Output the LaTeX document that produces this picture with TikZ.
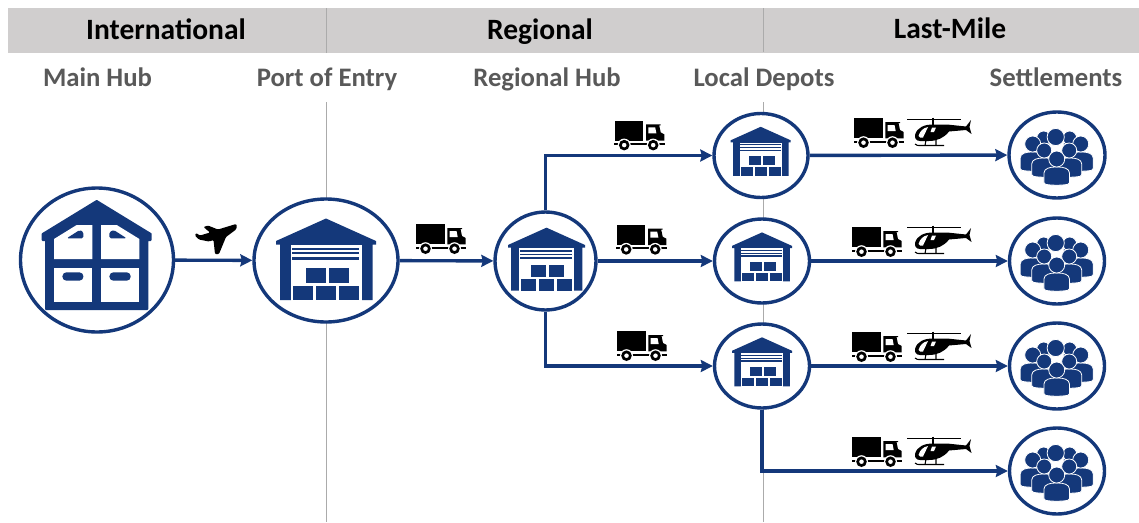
\documentclass[tikz,border=0pt]{standalone}
\usepackage{fontspec}
\setmainfont{Carlito}
\usetikzlibrary{shapes.geometric,arrows.meta}
\definecolor{navy}{HTML}{14387A}
\definecolor{bandgray}{HTML}{D0CECE}
\definecolor{rulegray}{HTML}{ABABAB}
\definecolor{labelgray}{HTML}{595959}
\newcommand{\crowdperson}[6]{% head x,y,r, half width, body top, body bottom
  \fill[navy,draw=white,line width=.8pt,rounded corners=1.5pt]
    ({#1-#4},#6) -- ({#1-#4},{#5+#4*0.6}) .. controls ({#1-#4},{#5+#4*0.1}) and ({#1-#4*0.5},#5) .. (#1,#5)
    .. controls ({#1+#4*0.5},#5) and ({#1+#4},{#5+#4*0.1}) .. ({#1+#4},{#5+#4*0.6}) -- ({#1+#4},#6)
    .. controls ({#1+#4*0.4},{#6+1.5}) and ({#1-#4*0.4},{#6+1.5}) .. cycle;
  \fill[navy,draw=white,line width=.8pt] (#1,#2) circle (#3);
}
\tikzset{
  x=1pt,y=-1pt,
  band/.style={fill=bandgray,draw=none,minimum width=1131pt,minimum height=45pt,inner sep=0pt},
  head/.style={font=\fontsize{29.5}{32}\selectfont\bfseries,text=black,inner sep=0pt,anchor=base},
  sublabel/.style={font=\fontsize{26.7}{30}\selectfont\bfseries,text=labelgray,inner sep=0pt,anchor=base},
  hubnode/.style={shape=ellipse,draw=navy,line width=3.4pt,fill=white,inner sep=0pt},
  link/.style={draw=navy,line width=3.4pt,-{Stealth[length=12pt,width=12pt,inset=1.5pt]},line join=miter},
  divider/.style={draw=rulegray,line width=1pt},
  pics/warehouse/.style={code={
    \fill[navy] (0,-42) -- (50,-19.5) -- (50,-16) -- (46.5,-16) -- (46.5,39.7) -- (-46,39.7) -- (-46,-16) -- (-50,-16) -- (-50,-19.5) -- cycle;
    \fill[white] (-35.3,-15.3) rectangle (35.7,40);
    \fill[navy] (-34.3,-13) rectangle (33,-11);
    \fill[navy] (-34.3,-8.3) rectangle (33,-6.3);
    \fill[navy] (-34.3,-3.7) rectangle (33,-1);
    \fill[navy] (-33.3,25.3) rectangle (-13.3,39.7);
    \fill[navy] (-10,25.3) rectangle (10,39.7);
    \fill[navy] (13.3,25.3) rectangle (33.3,39.7);
    \fill[navy] (-20.3,7) rectangle (-0.3,22.3);
    \fill[navy] (3,7) rectangle (23,22.3);
  }},
  pics/mainhouse/.style={code={
    \fill[navy,draw=navy,line width=2pt,line join=round] (0,-59) -- (54,-26) -- (54,-20) -- (50.7,-20) -- (50.7,49) -- (-50.7,49) -- (-50.7,-20) -- (-54,-20) -- (-54,-26) -- cycle;
    \fill[white] (-42.7,-21) -- (-20,-35) -- (-4.3,-35) -- (-4.3,-1) -- (-42.7,-1) -- cycle;
    \fill[white] (42.7,-21) -- (20,-35) -- (4.3,-35) -- (4.3,-1) -- (42.7,-1) -- cycle;
    \fill[white] (-42.7,7.7) rectangle (-4.3,41.7);
    \fill[white] (4.3,7.7) rectangle (42.7,41.7);
    \fill[navy,rounded corners=1.5pt] (-30,-21.7) -- (-17,-30) -- (-13.3,-28) -- (-13.3,-21.7) -- cycle;
    \fill[navy,rounded corners=1.5pt] (30,-21.7) -- (17,-30) -- (12.7,-28) -- (12.7,-21.7) -- cycle;
    \fill[navy,rounded corners=4pt] (-34.3,12.3) rectangle (-13.3,20.7);
    \fill[navy,rounded corners=4pt] (12.7,12.3) rectangle (34,20.7);
  }},
  pics/crowd/.style={code={
    \crowdperson{-13}{-17}{7}{6}{-14}{0}
    \crowdperson{13}{-17}{7}{6}{-14}{0}
    \fill[navy,draw=white,line width=.8pt] (-1,-18) circle (8.6);
    \crowdperson{-24}{-11}{8}{12.5}{-3}{15}
    \crowdperson{24}{-11}{8}{12.5}{-3}{15}
    \crowdperson{-12.5}{-4.5}{7.5}{12.5}{3}{21}
    \crowdperson{12.5}{-4.5}{7.5}{12.5}{3}{21}
    \crowdperson{0}{4}{8}{12.8}{12}{29}
  }},
  pics/truck/.style={code={
    \fill[black] (-24.7,-12.7) rectangle (3.7,7.3);
    \fill[black] (6.3,-9) -- (21,-9) -- (21,-8) -- (19.5,-8) -- (21,-1) -- (24.7,1) -- (24.7,7.3) -- (6.3,7.3) -- cycle;
    \fill[white] (8.7,-6) -- (15.5,-6) -- (16.7,0) -- (8.7,0) -- cycle;
    \fill[black] (-25.5,9.5) rectangle (25,11.7);
    \fill[white] (-15.5,11.7) circle (6.5);
    \fill[white] (13.5,11.7) circle (6.5);
    \fill[black,even odd rule] (-15.5,11.7) circle (5.3) (-15.5,11.7) circle (2.4);
    \fill[black,even odd rule] (13.5,11.7) circle (5.3) (13.5,11.7) circle (2.4);
  }},
  pics/heli/.style={code={
    \draw[black,line width=1pt] (-32,-13) -- (22,-13);
    \draw[black,line width=1.3pt] (-6,-14.5) -- (-6,-6);
    \fill[black] (-24,3) .. controls (-22,-5) and (-14,-7.5) .. (-6,-7.5) -- (8,-7.5) -- (27,-5.5) -- (32,-12) -- (30.5,-5) -- (32.5,2) -- (27,-2) -- (10,-0.5) .. controls (5,6) and (-2,9) .. (-10,9) -- (-19,9) .. controls (-23,9) and (-24.5,6) .. (-24,3) -- cycle;
    \fill[white] (-20.5,4) .. controls (-19,-1) and (-16,-4) .. (-11,-5) -- (-16,5.5) -- (-19,5.5) .. controls (-20,5.5) and (-20.5,5) .. (-20.5,4) -- cycle;
    \fill[white] (-7,-4.5) -- (-3,-4.5) -- (-5,0) -- (-8.5,0) -- cycle;
    \draw[black,line width=1.1pt] (-24,12) .. controls (-22,13.5) .. (-18,13.5) -- (5,13.5);
    \draw[black,line width=1.1pt] (-13,8) -- (-14,13.5) (-3,8) -- (-3,13.5);
  }},
  pics/plane/.style={code={
    \fill[black,rounded corners=1pt] (20,-14.5) -- (2,-9) -- (-8,-13) -- (-12.5,-11.5) -- (-6,-6) -- (-16,-3) -- (-20,-5.5) -- (-21,-3) -- (-17,1) -- (-7,3) -- (-2.5,1.5) -- (-1,15.5) -- (3,15.5) -- (10,-1.5) -- (20,-9) -- (21,-12.5) -- cycle;
  }}
}
\begin{document}
\begin{tikzpicture}
\useasboundingbox (0,0) rectangle (1139,522);
\node[band,anchor=north west] (topband) at (8,7.5) {};
\coordinate (r1a) at (326,8); \coordinate (r1b) at (326,53);
\coordinate (r1c) at (326,102); \coordinate (r1d) at (326,522);
\coordinate (r2a) at (763,8); \coordinate (r2b) at (763,52);
\coordinate (r2c) at (763,102); \coordinate (r2d) at (763,522);
\draw[divider] (r1a) -- (r1b) (r1c) -- (r1d) (r2a) -- (r2b) (r2c) -- (r2d);

\node[head] (tintl) at (166,39) {International};
\node[head] (tregl) at (540,39) {Regional};
\node[head] (tlast) at (950,38) {Last-Mile};
\node[sublabel] (lmain) at (97.5,86) {Main Hub};
\node[sublabel] (lport) at (327,86) {Port of Entry};
\node[sublabel] (lreg) at (547,86) {Regional Hub};
\node[sublabel] (ldep) at (764,86) {Local Depots};
\node[sublabel] (lset) at (1056,86) {Settlements};

\node[hubnode,minimum width=153pt,minimum height=144pt] (main) at (97,260) {};
\node[hubnode,minimum width=144pt,minimum height=123pt] (port) at (326,260.5) {};
\node[hubnode,minimum width=101pt,minimum height=98pt] (rhub) at (545.5,261) {};
\node[hubnode,minimum width=94pt,minimum height=84pt] (d1) at (761,155.5) {};
\node[hubnode,minimum width=95pt,minimum height=84pt] (d2) at (762,261) {};
\node[hubnode,minimum width=95pt,minimum height=84pt] (d3) at (762,366) {};
\node[hubnode,minimum width=96pt,minimum height=86pt] (s1) at (1057,155) {};
\node[hubnode,minimum width=95pt,minimum height=86pt] (s2) at (1057,261) {};
\node[hubnode,minimum width=95pt,minimum height=86pt] (s3) at (1057,366) {};
\node[hubnode,minimum width=95pt,minimum height=86pt] (s4) at (1057,471) {};

\draw[link] (main) -- (port);
\draw[link] (port) -- (rhub);
\draw[link] (rhub) -- (d2);
\draw[link] (rhub.north) |- (d1.west);
\draw[link] (rhub.south) |- (d3.west);
\draw[link] (d1) -- (s1);
\draw[link] (d2) -- (s2);
\draw[link] (d3) -- (s3);
\draw[link] (d3.south) |- (s4.west);

\pic at (96.7,260) {mainhouse};
\pic at (326,260.5) {warehouse};
\pic[scale=.77] at (546.5,260) {warehouse};
\pic[scale=.6] at (760.7,152) {warehouse};
\pic[scale=.6] at (762,257.6) {warehouse};
\pic[scale=.6] at (762,362.5) {warehouse};
\foreach \yy in {155,261,366,471} \pic at (1056.7,\yy) {crowd};

\pic at (216,238.5) {plane};
\pic at (441,237) {truck};
\pic at (639.7,133.4) {truck};
\pic at (641.7,237.7) {truck};
\pic at (642,344) {truck};
\pic at (879,131) {truck};
\pic at (877,240) {truck};
\pic at (877,345) {truck};
\pic at (877,450) {truck};
\pic at (939,132) {heli};
\pic at (939,240) {heli};
\pic at (939,346) {heli};
\pic at (939,451) {heli};
\end{tikzpicture}
\end{document}
